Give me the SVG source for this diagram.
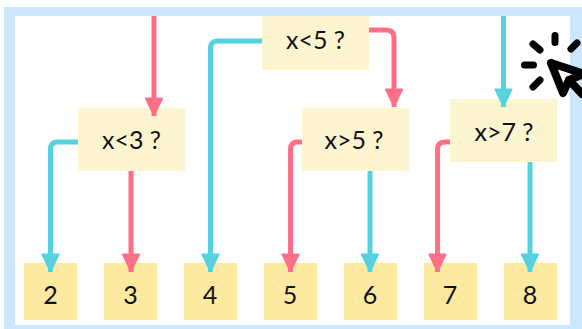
<svg xmlns="http://www.w3.org/2000/svg" width="582" height="329" viewBox="0 0 582 329">
<defs>
<marker id="hp" markerUnits="userSpaceOnUse" markerWidth="22" markerHeight="22" refX="19" refY="10" orient="auto"><path d="M1.5 2L18 10L1.5 18Z" fill="#ff6f87" stroke="#ff6f87" stroke-width="2" stroke-linejoin="round"/></marker>
<marker id="hc" markerUnits="userSpaceOnUse" markerWidth="22" markerHeight="22" refX="19" refY="10" orient="auto"><path d="M1.500 2L18 10L1.500 18Z" fill="#55d2de" stroke="#55d2de" stroke-width="2" stroke-linejoin="round"/></marker>
</defs>
<style>
.d{fill:#fdf4d0}.l{fill:#fee9a0}
text{font-family:"Lato","Noto Sans",sans-serif;font-size:25px;fill:#111;text-anchor:middle;dominant-baseline:central}
.p,.c{fill:none;stroke-width:5}
.p{stroke:#ff6f87;marker-end:url(#hp)}.c{stroke:#55d2de;marker-end:url(#hc)}
.k{fill:none;stroke:#000;stroke-width:7;stroke-linecap:round;stroke-linejoin:round}
.m{stroke-width:8}
</style>
<rect x="0" y="0" width="582" height="329" fill="#fff"/>
<path fill="#cce6ff" fill-rule="evenodd" d="M4 7H582V329H4ZM15 16V325H570V16Z"/>
<g id="n-x5"><rect class="d" x="262" y="16" width="107" height="54"/><text x="315.500" y="39">x&lt;5 ?</text></g>
<g id="n-x3"><rect class="d" x="78" y="108" width="107" height="63"/><text x="131.500" y="139">x&lt;3 ?</text></g>
<g id="n-g5"><rect class="d" x="302" y="108" width="107" height="63"/><text x="354" y="139">x&gt;5 ?</text></g>
<g id="n-g7"><rect class="d" x="450" y="99" width="107" height="63"/><text x="504" y="131">x&gt;7 ?</text></g>
<g id="l2"><rect class="l" x="24" y="263" width="53" height="57"/><text x="50.500" y="294">2</text></g>
<g id="l3"><rect class="l" x="104" y="263" width="53" height="57"/><text x="130.500" y="294">3</text></g>
<g id="l4"><rect class="l" x="184" y="263" width="53" height="57"/><text x="210" y="294">4</text></g>
<g id="l5"><rect class="l" x="264" y="263" width="53" height="57"/><text x="290" y="294">5</text></g>
<g id="l6"><rect class="l" x="344" y="263" width="53" height="57"/><text x="370" y="294">6</text></g>
<g id="l7"><rect class="l" x="424" y="263" width="53" height="57"/><text x="450" y="294">7</text></g>
<g id="l8"><rect class="l" x="504" y="263" width="53" height="57"/><text x="530" y="294">8</text></g>
<g id="connectors">
<path class="p" d="M154 16V116"/>
<path class="c" d="M503.500 16V107"/>
<path class="c" d="M262 41H218Q210.500 41 210.500 48V272"/>
<path class="p" d="M369 30H386Q394 30 394 38V107"/>
<path class="c" d="M78 142H58Q50.500 142 50.500 149V272"/>
<path class="p" d="M131 171V272"/>
<path class="p" d="M302 142H298Q290.500 142 290.500 149V272"/>
<path class="c" d="M370 171V272"/>
<path class="p" d="M450 142H445Q437.500 142 437.500 149V272"/>
<path class="c" d="M530 162V272"/>
</g>
<g id="cursor">
<path class="k" d="M555 35.500V42.500M533 44L540 50M524.500 65H533.500M533 87L540 80M577 43L571 49"/>
<path class="k m" d="M551 63L563 93L569 80L582 94M551 63L584 74L569 80"/>
</g>
</svg>
